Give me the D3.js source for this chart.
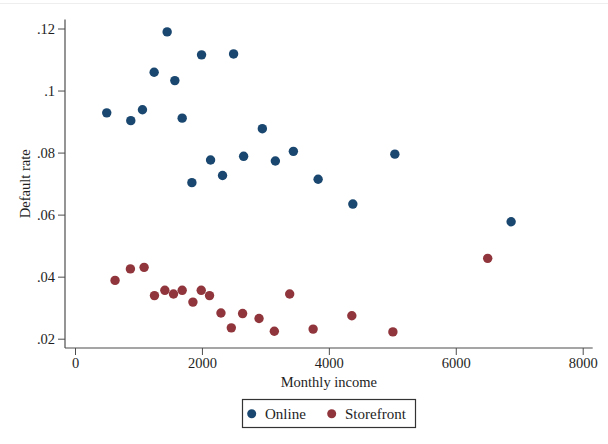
<!DOCTYPE html>
<html>
<head>
<meta charset="utf-8">
<script src="https://cdn.jsdelivr.net/npm/d3@7"></script>
<style>
  html, body { margin: 0; padding: 0; background: #fff; }
  svg { display: block; font-family: "Liberation Serif", "DejaVu Serif", serif; }
</style>
</head>
<body>
<svg id="chart" width="608" height="444"></svg>
<script>
// ---- data ----
const seriesNames = ["Online", "Storefront"];
const onlineIncome = [500, 879, 1063, 1247, 1452, 1573, 1689, 1842, 1994, 2136, 2325, 2499, 2657, 2952, 3157, 3441, 3831, 4378, 5040, 6872];
const onlineRate   = [0.0928, 0.0903, 0.0938, 0.1059, 0.1189, 0.1032, 0.0911, 0.0703, 0.1115, 0.0776, 0.0726, 0.1118, 0.0788, 0.0877, 0.0773, 0.0804, 0.0714, 0.0634, 0.0795, 0.0577];
const storeIncome  = [631, 873, 1089, 1252, 1416, 1552, 1689, 1858, 1989, 2120, 2300, 2463, 2641, 2900, 3141, 3383, 3752, 4362, 5009, 6503];
const storeRate    = [0.0388, 0.0425, 0.0430, 0.0339, 0.0356, 0.0344, 0.0356, 0.0318, 0.0356, 0.0339, 0.0283, 0.0235, 0.0281, 0.0265, 0.0224, 0.0344, 0.0231, 0.0274, 0.0222, 0.0459];
const xTicks = [0, 2000, 4000, 6000, 8000];
const yTicks = [0.02, 0.04, 0.06, 0.08, 0.10, 0.12];
const yTickLabels = [".02", ".04", ".06", ".08", ".1", ".12"];
const xTitle = "Monthly income";
const yTitle = "Default rate";

const colors = { "Online": "#1a476f", "Storefront": "#90353b" };

const svg = d3.select("#chart");
const textColor = "#1e1e1e";
const axisColor = "#4d4d4d";

// faint frame line at top
svg.append("line").attr("x1", 0).attr("x2", 608).attr("y1", 3.5).attr("y2", 3.5)
  .attr("stroke", "#eeeeee").attr("stroke-width", 1);

// plot region
const pLeft = 65, pRight = 592.7, pTop = 19.5, pBottom = 348;
const x = d3.scaleLinear().domain([0, 8000]).range([75, 582.7]);
const y = d3.scaleLinear().domain([0.02, 0.12]).range([338.7, 28.5]);

// axes
const yAxis = d3.axisLeft(y).tickValues(yTicks)
  .tickFormat((d, i) => yTickLabels[i]).tickSize(7).tickPadding(3);
const gy = svg.append("g").attr("transform", `translate(${pLeft},0)`).call(yAxis);
gy.select(".domain").attr("d", `M0,${pTop}V${pBottom}`);

const xAxis = d3.axisBottom(x).tickValues(xTicks).tickFormat(d3.format("d")).tickSize(7).tickPadding(3);
const gx = svg.append("g").attr("transform", `translate(0,${pBottom})`).call(xAxis);
gx.select(".domain").attr("d", `M${pLeft},0H${pRight}`);

[gx, gy].forEach(g => {
  g.selectAll(".domain").attr("stroke", axisColor).attr("stroke-width", 1.2);
  g.selectAll(".tick line").attr("stroke", axisColor).attr("stroke-width", 1);
  g.selectAll(".tick text").attr("fill", textColor)
    .style("font-family", "Liberation Serif, serif").style("font-size", "14.5px");
});

// axis titles
svg.append("text").attr("x", (pLeft + pRight) / 2).attr("y", 387)
  .attr("text-anchor", "middle").attr("fill", textColor).style("font-size", "14.5px").text(xTitle);
svg.append("text").attr("transform", `translate(30,${(pTop + pBottom) / 2}) rotate(-90)`)
  .attr("text-anchor", "middle").attr("fill", textColor).style("font-size", "14.5px").text(yTitle);

// points
const pts = [];
onlineIncome.forEach((v, i) => pts.push({ s: "Online", x: v, y: onlineRate[i] }));
storeIncome.forEach((v, i) => pts.push({ s: "Storefront", x: v, y: storeRate[i] }));
svg.append("g").selectAll("circle").data(pts).join("circle")
  .attr("cx", d => x(d.x)).attr("cy", d => y(d.y)).attr("r", 4.7)
  .attr("fill", d => colors[d.s]);

// legend
const lg = svg.append("g");
lg.append("rect").attr("x", 242.5).attr("y", 399.5).attr("width", 173).attr("height", 28)
  .attr("fill", "#fff").attr("stroke", "#333").attr("stroke-width", 1.2);
const legendPos = [{ cx: 251.7, tx: 265 }, { cx: 331.7, tx: 345 }];
seriesNames.forEach((n, i) => {
  lg.append("circle").attr("cx", legendPos[i].cx).attr("cy", 413.7).attr("r", 4.5).attr("fill", colors[n]);
  lg.append("text").attr("x", legendPos[i].tx).attr("y", 418.5).attr("fill", textColor)
    .style("font-size", "15px").text(n);
});
</script>
</body>
</html>
